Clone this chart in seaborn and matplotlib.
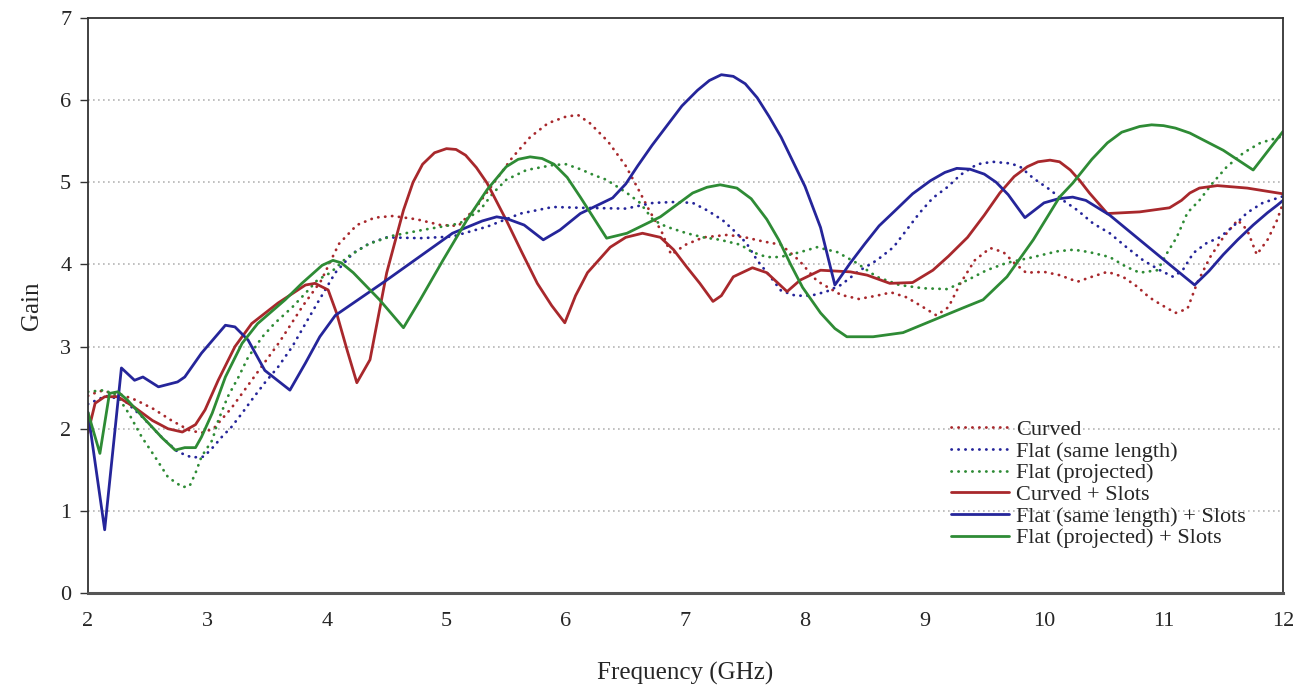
import matplotlib
matplotlib.use("Agg")
import matplotlib.pyplot as plt
import seaborn as sns
import pandas as pd

# Gain vs. frequency, measured for curved and flat antennas with and without slots
curved_f = [2.0, 2.1, 2.25, 2.4, 2.55, 2.7, 2.85, 2.95, 3.05, 3.2, 3.4, 3.6, 3.8, 3.95, 4.1, 4.25,
            4.4, 4.55, 4.75, 4.95, 5.1, 5.25, 5.4, 5.55, 5.7, 5.85, 6.0, 6.1, 6.2, 6.35, 6.5, 6.6,
            6.7, 6.8, 6.88, 7.0, 7.15, 7.35, 7.5, 7.65, 7.8, 7.95, 8.1, 8.3, 8.45, 8.6, 8.72, 8.85,
            9.0, 9.1, 9.2, 9.3, 9.42, 9.55, 9.66, 9.75, 9.85, 10.0, 10.13, 10.28, 10.4, 10.53,
            10.66, 10.78, 10.88, 10.98, 11.1, 11.2, 11.28, 11.39, 11.5, 11.62, 11.7, 11.78, 11.87,
            11.95, 12.0]
curved_g = [2.4, 2.46, 2.43, 2.35, 2.24, 2.1, 1.98, 1.95, 2.0, 2.25, 2.65, 3.05, 3.5, 3.8, 4.25, 4.48,
            4.57, 4.59, 4.55, 4.48, 4.47, 4.7, 5.0, 5.3, 5.55, 5.72, 5.8, 5.82, 5.72, 5.5, 5.2, 4.93,
            4.65, 4.4, 4.12, 4.24, 4.33, 4.36, 4.33, 4.28, 4.24, 4.05, 3.8, 3.63, 3.58, 3.62, 3.66, 3.6,
            3.47, 3.38, 3.48, 3.77, 4.05, 4.2, 4.15, 4.02, 3.9, 3.91, 3.87, 3.79, 3.85, 3.91,
            3.85, 3.73, 3.6, 3.51, 3.41, 3.46, 3.77, 4.09, 4.33, 4.54, 4.42, 4.12, 4.3,
            4.54, 4.75]

flat_same_f = [2.0, 2.15, 2.3, 2.45, 2.6, 2.75, 2.87, 2.97, 3.05, 3.12, 3.2, 3.29, 3.37, 3.48, 3.59,
               3.71, 3.82, 3.92, 4.07, 4.22, 4.36, 4.5, 4.78, 5.05, 5.34, 5.62, 5.89, 6.12, 6.5, 6.73,
               6.9, 7.06, 7.18, 7.31, 7.4, 7.51, 7.6, 7.71, 7.8, 7.92, 8.05, 8.18, 8.3, 8.45, 8.6,
               8.74, 8.85, 8.96, 9.07, 9.19, 9.3, 9.44, 9.57, 9.72, 9.8, 9.91, 10.05, 10.16, 10.28,
               10.41, 10.55, 10.69, 10.83, 10.97, 11.08, 11.16, 11.25, 11.36, 11.47, 11.58, 11.7,
               11.83, 12.0]
flat_same_g = [2.3, 2.4, 2.35, 2.15, 1.92, 1.72, 1.65, 1.66, 1.78, 1.9, 2.02, 2.19, 2.35, 2.56, 2.75,
               3.0, 3.28, 3.53, 3.9, 4.14, 4.26, 4.33, 4.32, 4.34, 4.46, 4.62, 4.7, 4.69, 4.68, 4.75,
               4.76, 4.75, 4.66, 4.54, 4.42, 4.26, 4.05, 3.85, 3.68, 3.62, 3.62, 3.67, 3.75, 3.92, 4.05,
               4.21, 4.42, 4.63, 4.81, 4.94, 5.09, 5.22, 5.25, 5.23, 5.19, 5.05, 4.91, 4.78, 4.66,
               4.5, 4.38, 4.21, 4.05, 3.93, 3.85, 3.93, 4.14, 4.26, 4.33, 4.46, 4.63,
               4.75, 4.83]

flat_proj_f = [2.0, 2.14, 2.25, 2.34, 2.45, 2.56, 2.67, 2.79, 2.85, 2.9, 2.95, 3.04, 3.09, 3.17, 3.26,
               3.34, 3.46, 3.56, 3.71, 3.82, 3.92, 4.03, 4.17, 4.35, 4.55, 4.8, 5.0, 5.11, 5.28, 5.39,
               5.5, 5.67, 5.89, 6.0, 6.12, 6.23, 6.34, 6.51, 6.62, 6.73, 6.84, 7.01, 7.15, 7.29, 7.46,
               7.56, 7.68, 7.79, 7.96, 8.1, 8.27, 8.43, 8.6, 8.79, 8.99, 9.19, 9.36, 9.52, 9.69, 9.91,
               10.11, 10.25, 10.38, 10.55, 10.69, 10.8, 10.95, 11.03, 11.11, 11.2, 11.3, 11.41,
               11.53, 11.67, 11.81, 11.97, 12.0]
flat_proj_g = [2.45, 2.47, 2.39, 2.19, 1.9, 1.66, 1.41, 1.29, 1.3, 1.46, 1.66, 1.86, 2.1, 2.39, 2.63,
               2.87, 3.12, 3.28, 3.48, 3.65, 3.81, 3.9, 4.09, 4.25, 4.35, 4.42, 4.47, 4.5, 4.66, 4.87,
               5.03, 5.15, 5.21, 5.22, 5.16, 5.09, 5.03, 4.87, 4.75, 4.54, 4.46, 4.38, 4.33, 4.3, 4.24,
               4.15, 4.09, 4.09, 4.15, 4.21, 4.15, 4.02, 3.85, 3.75, 3.71, 3.7, 3.81, 3.93, 4.02, 4.09,
               4.16, 4.18, 4.15, 4.09, 3.97, 3.9, 3.93, 4.14, 4.33, 4.63, 4.78, 4.99,
               5.19, 5.36, 5.48, 5.55, 5.6]

curved_slots_f = [2.0, 2.06, 2.14, 2.25, 2.39, 2.54, 2.67, 2.79, 2.9, 2.98, 3.09, 3.23, 3.37, 3.59,
                  3.82, 3.9, 4.01, 4.08, 4.17, 4.25, 4.36, 4.5, 4.64, 4.72, 4.8, 4.9, 5.0, 5.08,
                  5.16, 5.25, 5.34, 5.5, 5.63, 5.76, 5.88, 5.99, 6.08, 6.18, 6.37, 6.5, 6.64, 6.79,
                  6.9, 7.01, 7.12, 7.23, 7.3, 7.4, 7.56, 7.68, 7.85, 7.96, 8.13, 8.38, 8.52, 8.71,
                  8.9, 9.07, 9.2, 9.36, 9.5, 9.63, 9.75, 9.86, 9.95, 10.05, 10.13, 10.22, 10.3,
                  10.38, 10.53, 10.8, 11.05, 11.15, 11.22, 11.3, 11.45, 11.7, 12.0]
curved_slots_g = [1.95, 2.31, 2.39, 2.39, 2.26, 2.1, 2.0, 1.96, 2.05, 2.23, 2.59, 3.0, 3.28, 3.53,
                  3.75, 3.77, 3.69, 3.41, 2.95, 2.56, 2.84, 3.9, 4.66, 5.0, 5.22, 5.36, 5.41, 5.4,
                  5.33, 5.18, 4.99, 4.54, 4.15, 3.77, 3.5, 3.29, 3.62, 3.9, 4.21, 4.33, 4.38, 4.33,
                  4.18, 3.97, 3.77, 3.55, 3.62, 3.85, 3.96, 3.9, 3.67, 3.81, 3.93, 3.91, 3.87, 3.77,
                  3.78, 3.93, 4.1, 4.33, 4.6, 4.87, 5.07, 5.19, 5.25, 5.27, 5.25, 5.15, 5.02,
                  4.87, 4.62, 4.64, 4.69, 4.78, 4.87, 4.93, 4.96, 4.93, 4.86]

flat_same_slots_f = [2.0, 2.14, 2.28, 2.39, 2.46, 2.59, 2.75, 2.81, 2.95, 3.15, 3.23, 3.34, 3.48,
                     3.69, 3.82, 3.94, 4.07, 4.5, 5.05, 5.3, 5.42, 5.5, 5.65, 5.81, 5.95, 6.12,
                     6.39, 6.5, 6.6, 6.72, 6.85, 6.97, 7.1, 7.2, 7.3, 7.4, 7.5, 7.6, 7.7, 7.8, 7.9,
                     8.0, 8.13, 8.25, 8.38, 8.5, 8.62, 8.75, 8.9, 9.05, 9.17, 9.27, 9.38, 9.5, 9.6,
                     9.7, 9.84, 9.92, 10.0, 10.12, 10.24, 10.35, 10.55, 10.8, 11.05, 11.26, 11.38,
                     11.5, 11.62, 11.75, 11.87, 11.95, 12.0]
flat_same_slots_g = [2.2, 0.77, 2.74, 2.59, 2.63, 2.51, 2.57, 2.63, 2.92, 3.26, 3.24, 3.08, 2.71,
                     2.47, 2.8, 3.12, 3.38, 3.81, 4.38, 4.53, 4.58, 4.56, 4.48, 4.3, 4.42, 4.62,
                     4.81, 4.98, 5.2, 5.45, 5.7, 5.93, 6.12, 6.24, 6.31, 6.29, 6.2, 6.03, 5.8, 5.55,
                     5.25, 4.95, 4.45, 3.75, 4.02, 4.25, 4.47, 4.65, 4.86, 5.02, 5.12, 5.17, 5.16,
                     5.1, 5.0, 4.85, 4.57, 4.66, 4.75, 4.8, 4.82, 4.78, 4.6, 4.3, 4.0, 3.75, 3.92,
                     4.12, 4.3, 4.48, 4.63, 4.72, 4.78]

flat_proj_slots_f = [2.0, 2.1, 2.18, 2.25, 2.33, 2.48, 2.62, 2.73, 2.81, 2.9, 2.95, 3.04, 3.15,
                     3.29, 3.42, 3.65, 3.79, 3.96, 4.05, 4.12, 4.22, 4.44, 4.64, 4.78, 4.97, 5.17,
                     5.34, 5.5, 5.6, 5.7, 5.8, 5.9, 6.01, 6.12, 6.34, 6.51, 6.79, 7.06, 7.18, 7.29,
                     7.43, 7.55, 7.68, 7.78, 7.88, 7.98, 8.13, 8.25, 8.35, 8.57, 8.82, 9.07, 9.32,
                     9.49, 9.69, 9.91, 10.13, 10.24, 10.4, 10.53, 10.65, 10.8, 10.9, 11.0, 11.1,
                     11.22, 11.5, 11.75, 12.0]
flat_proj_slots_g = [2.2, 1.7, 2.43, 2.45, 2.35, 2.11, 1.89, 1.74, 1.77, 1.77, 1.9, 2.19, 2.63,
                     3.04, 3.28, 3.57, 3.77, 3.99, 4.05, 4.02, 3.9, 3.57, 3.23, 3.57, 4.05, 4.54,
                     4.91, 5.19, 5.28, 5.31, 5.29, 5.22, 5.06, 4.82, 4.32, 4.38, 4.58, 4.87, 4.94,
                     4.97, 4.93, 4.8, 4.55, 4.3, 4.0, 3.72, 3.41, 3.22, 3.12, 3.12, 3.17, 3.32, 3.47,
                     3.57, 3.85, 4.3, 4.82, 4.99, 5.28, 5.48, 5.61, 5.68, 5.7, 5.69, 5.66,
                     5.6, 5.39, 5.15, 5.62]

series_names = ["Curved", "Flat (same length)", "Flat (projected)",
                "Curved + Slots", "Flat (same length) + Slots", "Flat (projected) + Slots"]
series_f = [curved_f, flat_same_f, flat_proj_f, curved_slots_f, flat_same_slots_f, flat_proj_slots_f]
series_g = [curved_g, flat_same_g, flat_proj_g, curved_slots_g, flat_same_slots_g, flat_proj_slots_g]

RED, BLUE, GREEN = "#A8282C", "#25259A", "#2E8B35"
colors = [RED, BLUE, GREEN, RED, BLUE, GREEN]
dotted = [True, True, True, False, False, False]

sns.set_theme(style="white")
plt.rcParams["font.family"] = ["Liberation Serif", "DejaVu Serif"]
plt.rcParams["font.size"] = 16

fig = plt.figure(figsize=(13.01, 6.94), dpi=100)
ax = fig.add_axes([0.0676, 0.1455, 0.9186, 0.8285])

for name, f, g, c, dot in zip(series_names, series_f, series_g, colors, dotted):
    df = pd.DataFrame({"Frequency (GHz)": f, "Gain": g})
    if dot:
        sns.lineplot(data=df, x="Frequency (GHz)", y="Gain", ax=ax, color=c, lw=2.0,
                     linestyle=(0, (0.1, 2.4)), dash_capstyle="round", label=name,
                     estimator=None, sort=False)
    else:
        sns.lineplot(data=df, x="Frequency (GHz)", y="Gain", ax=ax, color=c, lw=2.0,
                     label=name, estimator=None, sort=False)

ax.set_xlim(2, 12)
ax.set_ylim(0, 7)
ax.set_xticks(range(2, 13))
ax.set_xticks(range(2, 13, 2), minor=True)
ax.set_yticks(range(0, 8))
ax.tick_params(axis="x", which="major", length=0, pad=14, labelsize=16)
ax.tick_params(axis="x", which="minor", direction="in", length=6, width=1, color="#333333",
               bottom=True)
ax.tick_params(axis="y", which="major", direction="out", length=6, width=1, color="#333333",
               left=True, labelsize=16, pad=6)
for y in range(1, 7):
    ax.axhline(y, color="#b5b5b5", lw=1.2, linestyle=(0, (1, 2)), zorder=0)
for sp in ax.spines.values():
    sp.set_color("#333333")
    sp.set_linewidth(1.3)
ax.spines["bottom"].set_linewidth(2.2)
ax.spines["bottom"].set_color("#555555")

ax.set_xlabel("Frequency (GHz)", fontsize=18, labelpad=22)
ax.set_ylabel("Gain", fontsize=18, labelpad=12)

leg = ax.legend(loc="lower left", bbox_to_anchor=(0.715, 0.062), frameon=False, fontsize=16,
                handlelength=2.6, handletextpad=0.3, labelspacing=0.05, borderaxespad=0)

fig.savefig("out.png", dpi=100)
